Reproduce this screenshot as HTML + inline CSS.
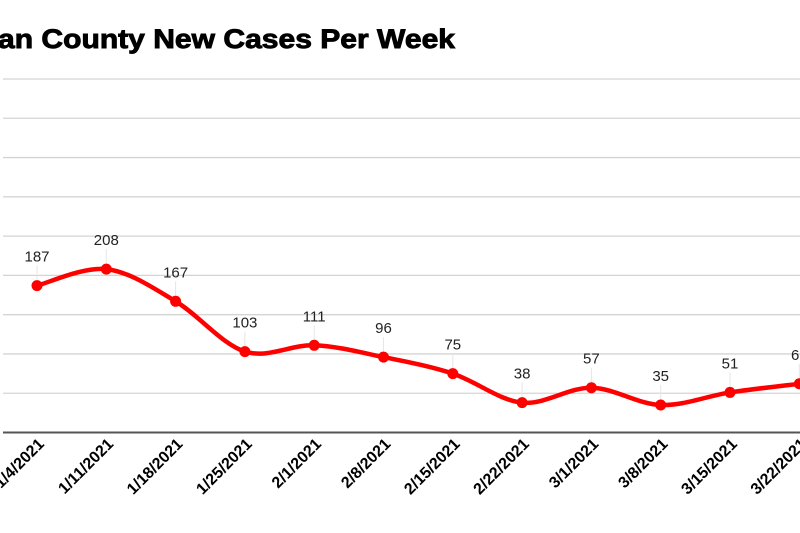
<!DOCTYPE html>
<html><head><meta charset="utf-8"><style>
html,body{margin:0;padding:0;background:#fff;width:800px;height:533px;overflow:hidden}
svg{display:block;font-family:"Liberation Sans",Arial,sans-serif}
</style></head><body>
<svg id="chart" width="800" height="533" viewBox="0 0 800 533">
<text x="-2" y="48" text-anchor="end" font-size="27" font-weight="bold" fill="#000">Cheboyg</text>
<text x="-2" y="48" font-size="27" font-weight="bold" fill="#000" stroke="#000" stroke-width="0.9" textLength="457" lengthAdjust="spacingAndGlyphs">an County New Cases Per Week</text>
<g id="grid"></g><g id="line"></g><g id="labels"></g>
</svg>
<script>
const categories=["1/4/2021","1/11/2021","1/18/2021","1/25/2021","2/1/2021","2/8/2021","2/15/2021","2/22/2021","3/1/2021","3/8/2021","3/15/2021","3/22/2021"];
const cases=[187,208,167,103,111,96,75,38,57,35,51,62];
const yTicks=[0,50,100,150,200,250,300,350,400,450];
const NS="http://www.w3.org/2000/svg";
const x0=37,dx=69.3,yBase=432.5,yTop=79;
const xs=i=>x0+i*dx;
const ys=v=>yBase-(v/450)*(yBase-yTop);
function mk(t,a,p){const e=document.createElementNS(NS,t);for(const k in a)e.setAttribute(k,a[k]);p.appendChild(e);return e;}
const grid=document.getElementById('grid'),line=document.getElementById('line'),lab=document.getElementById('labels');
yTicks.forEach(v=>{
 const l=mk('line',{x1:3,x2:800,y1:ys(v),y2:ys(v),stroke:v===0?'#555':'#d4d4d4','stroke-width':v===0?2:1.3},grid);
 
 
});
const pts=cases.map((v,i)=>[xs(i),ys(v)]);
let d=`M${pts[0][0]},${pts[0][1]}`;
for(let i=0;i<pts.length-1;i++){
 const p0=pts[Math.max(i-1,0)],p1=pts[i],p2=pts[i+1],p3=pts[Math.min(i+2,pts.length-1)];
 const c1=[p1[0]+(p2[0]-p0[0])/6,p1[1]+(p2[1]-p0[1])/6],c2=[p2[0]-(p3[0]-p1[0])/6,p2[1]-(p3[1]-p1[1])/6];
 d+=` C${c1[0]},${c1[1]} ${c2[0]},${c2[1]} ${p2[0]},${p2[1]}`;
}
cases.forEach((v,i)=>{
 const x=xs(i),y=ys(v);
 const ld=mk('line',{x1:x,x2:x,y1:y-20,y2:y,stroke:'#e6e6e6','stroke-width':1},grid);
 
 
});
const path=mk('path',{d:d,fill:'none',stroke:'#ff0000','stroke-width':4.5,'stroke-linejoin':'round'},line);


cases.forEach((v,i)=>{
 const x=xs(i),y=ys(v);
 const c=mk('circle',{cx:x,cy:y,r:5.5,fill:'#ff0000'},line);
 
 
 const t=mk('text',{x:x,y:y-24,'text-anchor':'middle','font-size':15,fill:'#222'},lab);
 t.textContent=v;
 
 
 const xl=mk('text',{x:0,y:0,'text-anchor':'end','font-size':16,'font-weight':'bold',fill:'#000',transform:`translate(${x+8},${445}) rotate(-45)`},lab);
 xl.textContent=categories[i];
 
 
});
</script>
</body></html>
